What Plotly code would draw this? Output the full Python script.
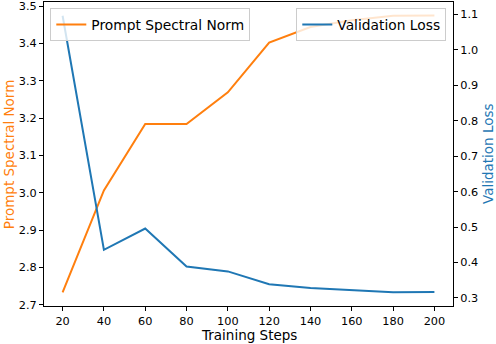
import plotly.graph_objects as go

steps = [20, 40, 60, 80, 100, 120, 140, 160, 180, 200]
spectral_norm = [2.733, 3.006, 3.184, 3.184, 3.269, 3.402, 3.444, 3.462, 3.474, 3.475]
val_loss = [1.096, 0.436, 0.496, 0.389, 0.375, 0.339, 0.328, 0.323, 0.316, 0.317]

orange = "#ff7f0e"
blue = "#1f77b4"
font = "DejaVu Sans"

fig = go.Figure()
fig.add_trace(go.Scatter(x=steps, y=spectral_norm, mode="lines", name="Prompt Spectral Norm",
                         line=dict(color=orange, width=2), legend="legend", showlegend=True))
fig.add_trace(go.Scatter(x=steps, y=val_loss, mode="lines", name="Validation Loss",
                         line=dict(color=blue, width=2), yaxis="y2", legend="legend2", showlegend=True))

axis_style = dict(showgrid=False, zeroline=False, showline=True, linecolor="black", linewidth=1,
                  ticks="outside", ticklen=4, tickcolor="black", automargin=False,
                  tickfont=dict(family=font, size=11.3, color="black"))

legend_style = dict(y=0.98, yanchor="top", bgcolor="rgba(255,255,255,0.8)",
                    bordercolor="#cccccc", borderwidth=1, itemwidth=30,
                    font=dict(family=font, size=13.8))

fig.update_layout(
    width=496, height=344,
    margin=dict(l=44, r=43, t=2, b=38),
    plot_bgcolor="white", paper_bgcolor="white",
    font=dict(family=font, size=12, color="black"),
    showlegend=True,
    xaxis=dict(range=[11, 209], tickvals=steps, mirror=True, **axis_style),
    yaxis=dict(range=[2.6965, 3.511], tickvals=[2.7, 2.8, 2.9, 3.0, 3.1, 3.2, 3.3, 3.4, 3.5],
               tickformat=".1f", **axis_style),
    yaxis2=dict(range=[0.2774, 1.1348], overlaying="y", side="right",
                tickvals=[0.3, 0.4, 0.5, 0.6, 0.7, 0.8, 0.9, 1.0, 1.1], tickformat=".1f",
                **axis_style),
    legend=dict(x=0.0154, xanchor="left", **legend_style),
    legend2=dict(x=0.9836, xanchor="right", **legend_style),
)

# axis titles placed like matplotlib's
fig.add_annotation(text="Training Steps", xref="paper", yref="paper", x=0.5, y=-0.095,
                   yanchor="middle", showarrow=False, font=dict(family=font, size=13.5))
fig.add_annotation(text="Prompt Spectral Norm", xref="paper", yref="paper", x=-0.085, y=0.5,
                   xanchor="center", textangle=-90, showarrow=False,
                   font=dict(family=font, size=13.5, color=orange))
fig.add_annotation(text="Validation Loss", xref="paper", yref="paper", x=1.0856, y=0.5,
                   xanchor="center", textangle=-90, showarrow=False,
                   font=dict(family=font, size=13.5, color=blue))

fig.write_html("out.html", config={"displayModeBar": False},
               post_script="document.body.style.margin='0';")
